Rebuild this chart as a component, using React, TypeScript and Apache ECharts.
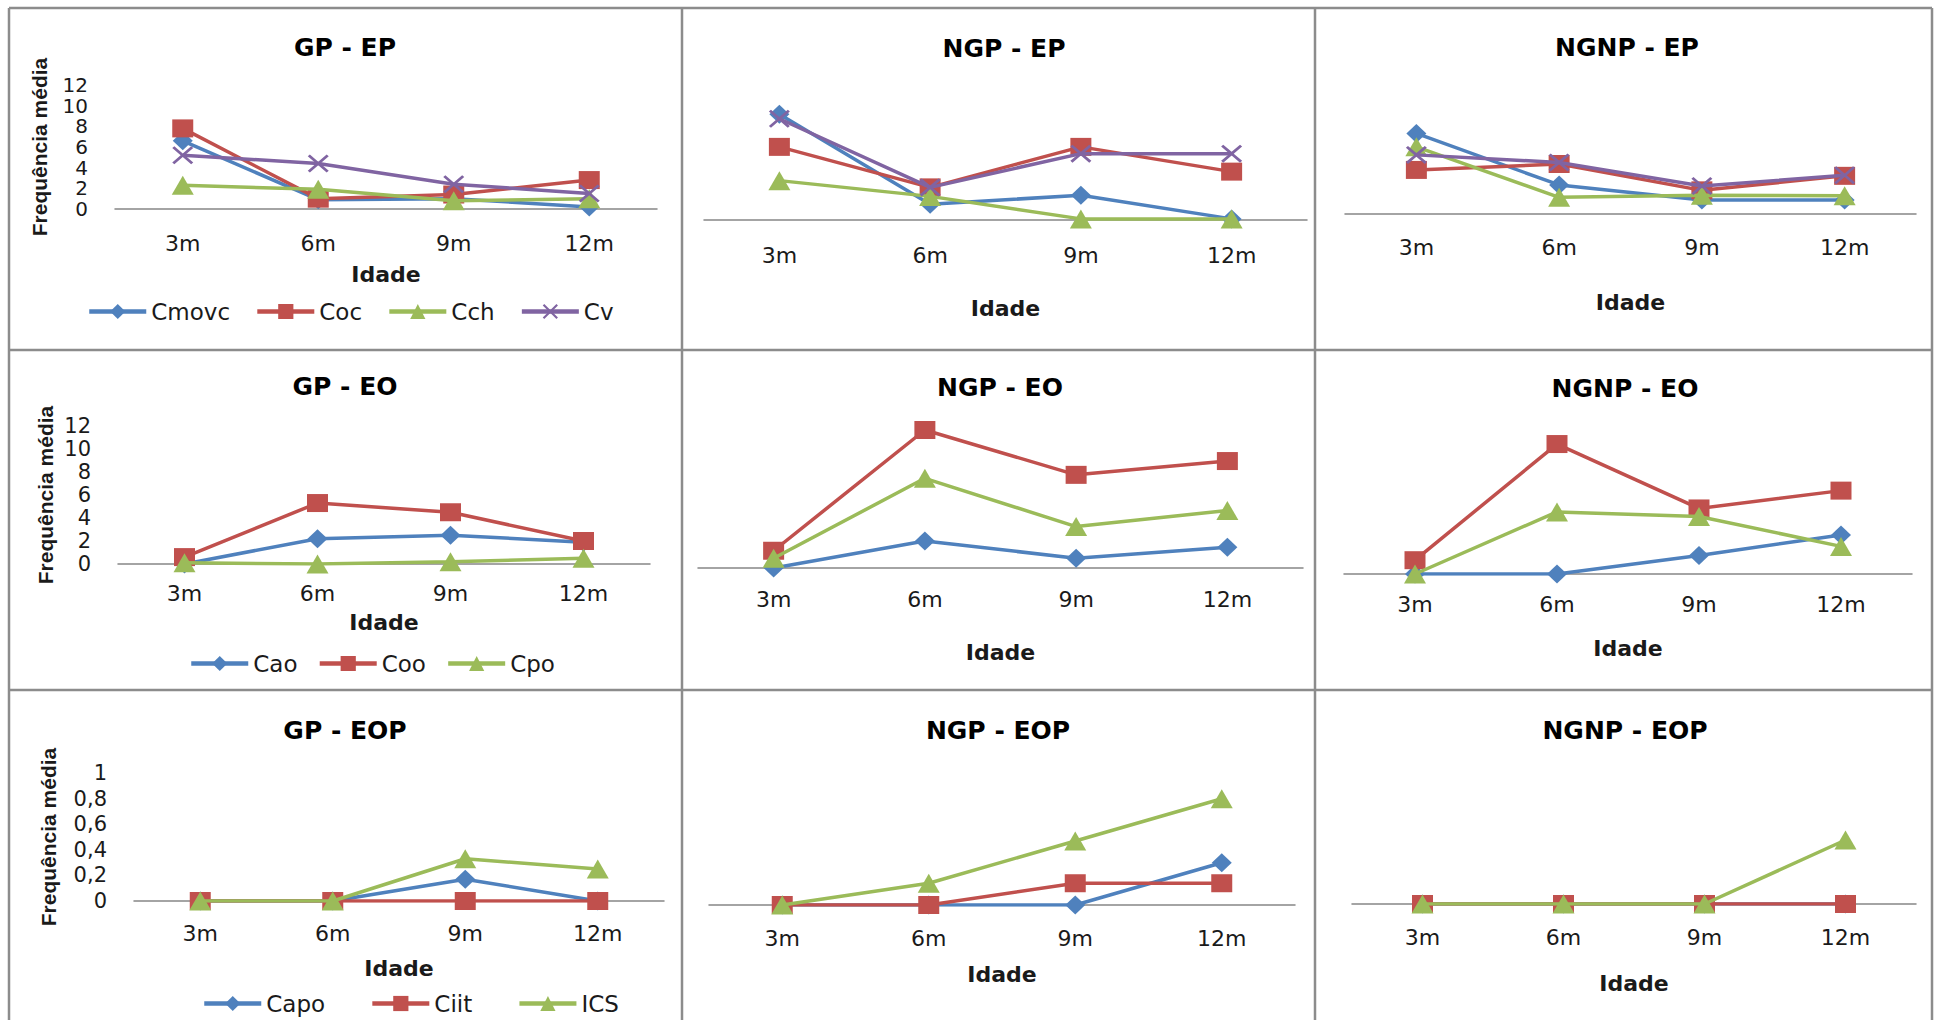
import React, { useEffect, useRef } from "react";
import * as echarts from "echarts";

// ---------- categories / series names ----------
const CATS = ["3m", "6m", "9m", "12m"];
const EP_NAMES = ["Cmovc", "Coc", "Cch", "Cv"];
const EO_NAMES = ["Cao", "Coo", "Cpo"];
const EOP_NAMES = ["Capo", "Ciit", "ICS"];
const X_NAME = "Idade";
const Y_NAME = "Frequência média";

// ---------- values ----------
// GP - EP
const gpEpCmovc = [6.6, 0.9, 1.0, 0.2];
const gpEpCoc = [7.8, 1.0, 1.4, 2.8];
const gpEpCch = [2.3, 1.9, 0.8, 1.0];
const gpEpCv = [5.2, 4.4, 2.4, 1.5];
// NGP - EP
const ngpEpCmovc = [9.4, 1.4, 2.2, 0.1];
const ngpEpCoc = [6.5, 2.9, 6.5, 4.3];
const ngpEpCch = [3.5, 2.1, 0.1, 0.1];
const ngpEpCv = [9.0, 2.9, 5.9, 5.9];
// NGNP - EP
const ngnpEpCmovc = [7.5, 2.7, 1.3, 1.3];
const ngnpEpCoc = [4.1, 4.65, 2.2, 3.55];
const ngnpEpCch = [6.25, 1.55, 1.75, 1.7];
const ngnpEpCv = [5.5, 4.8, 2.6, 3.6];
// GP - EO
const gpEoCao = [0, 2.2, 2.5, 1.9];
const gpEoCoo = [0.6, 5.3, 4.5, 2.0];
const gpEoCpo = [0.1, 0, 0.2, 0.5];
// NGP - EO
const ngpEoCao = [0, 2.35, 0.85, 1.8];
const ngpEoCoo = [1.5, 12.0, 8.1, 9.3];
const ngpEoCpo = [0.85, 7.8, 3.6, 5.0];
// NGNP - EO
const ngnpEoCao = [0, 0, 1.6, 3.4];
const ngnpEoCoo = [1.2, 11.3, 5.7, 7.25];
const ngnpEoCpo = [0, 5.4, 5.0, 2.4];
// GP - EOP
const gpEopCapo = [0, 0, 0.17, 0];
const gpEopCiit = [0, 0, 0, 0];
const gpEopIcs = [0, 0, 0.33, 0.25];
// NGP - EOP
const ngpEopCapo = [0, 0, 0, 0.33];
const ngpEopCiit = [0, 0, 0.17, 0.17];
const ngpEopIcs = [0, 0.17, 0.5, 0.83];
// NGNP - EOP
const ngnpEopCapo = [0, 0, 0, 0];
const ngnpEopCiit = [0, 0, 0, 0];
const ngnpEopIcs = [0, 0, 0, 0.5];

// ---------- styles ----------
const COLORS = ["#4F81BD", "#C0504D", "#9BBB59", "#8064A2"];
const X_PATH =
  "path://M0,2L2,0L10,8L18,0L20,2L12,10L20,18L18,20L10,12L2,20L0,18L8,10Z";
const SYMBOLS = ["diamond", "rect", "triangle", X_PATH];
const SYMBOL_SIZES = [
  [20, 19],
  [21, 18],
  [22, 19],
  [21, 18],
];
const TEXT_COLOR = "#1a1a1a";
const FONT = "DejaVu Sans";

// ---------- panel layout ----------
const PANELS = [
  { title: "GP - EP", names: EP_NAMES, data: [gpEpCmovc, gpEpCoc, gpEpCch, gpEpCv], tx: 345, ty: 47,
    left: 115, top: 85, width: 542, height: 124, max: 12, interval: 2, showY: true, yFont: 20,
    catMargin: 23, nameGap: 54, yNameGap: 65, legend: { left: 87, top: 300, gap: 25 } },
  { title: "NGP - EP", names: EP_NAMES, data: [ngpEpCmovc, ngpEpCoc, ngpEpCch, ngpEpCv], tx: 1004, ty: 48,
    left: 704, top: 85, width: 603, height: 135, max: 12, interval: 2, showY: false, yFont: 20,
    catMargin: 24, nameGap: 77 },
  { title: "NGNP - EP", names: EP_NAMES, data: [ngnpEpCmovc, ngnpEpCoc, ngnpEpCch, ngnpEpCv], tx: 1627, ty: 47,
    left: 1345, top: 85, width: 571, height: 129, max: 12, interval: 2, showY: false, yFont: 20,
    catMargin: 22, nameGap: 77 },
  { title: "GP - EO", names: EO_NAMES, data: [gpEoCao, gpEoCoo, gpEoCpo], tx: 345, ty: 386,
    left: 118, top: 426, width: 532, height: 138, max: 12, interval: 2, showY: true, yFont: 21,
    catMargin: 18, nameGap: 47, yNameGap: 62, legend: { left: 189, top: 652, gap: 20 } },
  { title: "NGP - EO", names: EO_NAMES, data: [ngpEoCao, ngpEoCoo, ngpEoCpo], tx: 1000, ty: 387,
    left: 698, top: 407, width: 605, height: 161, max: 14, interval: 2, showY: false, yFont: 20,
    catMargin: 20, nameGap: 73 },
  { title: "NGNP - EO", names: EO_NAMES, data: [ngnpEoCao, ngnpEoCoo, ngnpEoCpo], tx: 1625, ty: 388,
    left: 1344, top: 413, width: 568, height: 161, max: 14, interval: 2, showY: false, yFont: 20,
    catMargin: 19, nameGap: 63 },
  { title: "GP - EOP", names: EOP_NAMES, data: [gpEopCapo, gpEopCiit, gpEopIcs], tx: 345, ty: 730,
    left: 134, top: 773, width: 530, height: 128, max: 1, interval: 0.2, showY: true, yFont: 21,
    catMargin: 21, nameGap: 56, yNameGap: 75, legend: { left: 202, top: 992, gap: 45 } },
  { title: "NGP - EOP", names: EOP_NAMES, data: [ngpEopCapo, ngpEopCiit, ngpEopIcs], tx: 998, ty: 730,
    left: 709, top: 777, width: 586, height: 128, max: 1, interval: 0.2, showY: false, yFont: 20,
    catMargin: 22, nameGap: 58 },
  { title: "NGNP - EOP", names: EOP_NAMES, data: [ngnpEopCapo, ngnpEopCiit, ngnpEopIcs], tx: 1625, ty: 730,
    left: 1352, top: 776, width: 564, height: 128, max: 1, interval: 0.2, showY: false, yFont: 20,
    catMargin: 22, nameGap: 68 },
];

const BORDER_X = [9, 682, 1315, 1932];
const BORDER_Y = [8, 350, 690];

function buildOption() {
  const grid: any[] = [];
  const xAxis: any[] = [];
  const yAxis: any[] = [];
  const series: any[] = [];
  const legend: any[] = [];
  const graphic: any[] = [];

  PANELS.forEach((p, i) => {
    grid.push({ left: p.left, top: p.top, width: p.width, height: p.height, containLabel: false, outerBoundsMode: "none" });
    xAxis.push({
      type: "category",
      gridIndex: i,
      data: CATS,
      boundaryGap: true,
      name: X_NAME,
      nameLocation: "middle",
      nameGap: p.nameGap,
      nameTextStyle: { fontFamily: FONT, fontWeight: "bold", fontSize: 22, color: TEXT_COLOR },
      axisLine: { show: true, lineStyle: { color: "#868686", width: 1.5 } },
      axisTick: { show: false },
      splitLine: { show: false },
      axisLabel: { margin: p.catMargin, fontFamily: FONT, fontSize: 22, color: TEXT_COLOR },
    });
    yAxis.push({
      type: "value",
      gridIndex: i,
      min: 0,
      max: p.max,
      interval: p.interval,
      show: p.showY,
      name: p.showY ? Y_NAME : "",
      nameLocation: "middle",
      nameRotate: 90,
      nameGap: p.yNameGap || 60,
      nameTextStyle: { fontFamily: "Liberation Sans", fontWeight: "bold", fontSize: 21, color: TEXT_COLOR },
      axisLine: { show: false },
      axisTick: { show: false },
      splitLine: { show: false },
      axisLabel: {
        margin: 27,
        fontFamily: FONT,
        fontSize: p.yFont,
        lineHeight: p.yFont,
        color: TEXT_COLOR,
        showMinLabel: true,
        showMaxLabel: true,
        hideOverlap: false,
        formatter: (v: number) => String(Math.round(v * 10) / 10).replace(".", ","),
      },
    });
    p.names.forEach((name, j) => {
      series.push({
        type: "line",
        name,
        xAxisIndex: i,
        yAxisIndex: i,
        data: p.data[j],
        symbol: SYMBOLS[j],
        symbolSize: SYMBOL_SIZES[j],
        showSymbol: true,
        lineStyle: { color: COLORS[j], width: 3.5 },
        itemStyle: { color: COLORS[j], borderWidth: 0 },
        emphasis: { disabled: true },
        z: 2 + j,
      });
    });
    if (p.legend) {
      legend.push({
        data: p.names,
        left: p.legend.left,
        top: p.legend.top,
        padding: 0,
        orient: "horizontal",
        itemWidth: 57,
        itemHeight: 19,
        itemGap: p.legend.gap,
        selectedMode: false,
        textStyle: { fontFamily: FONT, fontSize: 23, color: TEXT_COLOR },
        lineStyle: { width: 4.5 },
      });
    }
    graphic.push({
      type: "text",
      x: p.tx,
      y: p.ty,
      style: {
        text: p.title,
        fontFamily: FONT,
        fontWeight: "bold",
        fontSize: 25,
        fill: "#000000",
        align: "center",
        verticalAlign: "middle",
      },
    });
  });

  BORDER_X.forEach((x) => {
    graphic.push({
      type: "line",
      shape: { x1: x, y1: BORDER_Y[0], x2: x, y2: 1020 },
      style: { stroke: "#8c8c8c", lineWidth: 2.5 },
      z: 100,
    });
  });
  BORDER_Y.forEach((y) => {
    graphic.push({
      type: "line",
      shape: { x1: BORDER_X[0], y1: y, x2: BORDER_X[BORDER_X.length - 1], y2: y },
      style: { stroke: "#8c8c8c", lineWidth: 2.5 },
      z: 100,
    });
  });

  return {
    animation: false,
    backgroundColor: "#ffffff",
    tooltip: { show: false },
    grid,
    xAxis,
    yAxis,
    series,
    legend,
    graphic,
  };
}

export default function App() {
  const ref = useRef<HTMLDivElement>(null);
  useEffect(() => {
    if (!ref.current) return;
    const chart = echarts.init(ref.current, null, { renderer: "svg" });
    chart.setOption(buildOption() as any);
    return () => chart.dispose();
  }, []);
  return (
    <div
      ref={ref}
      style={{ position: "absolute", left: 0, top: 0, width: 1936, height: 1020, background: "#fff" }}
    />
  );
}
